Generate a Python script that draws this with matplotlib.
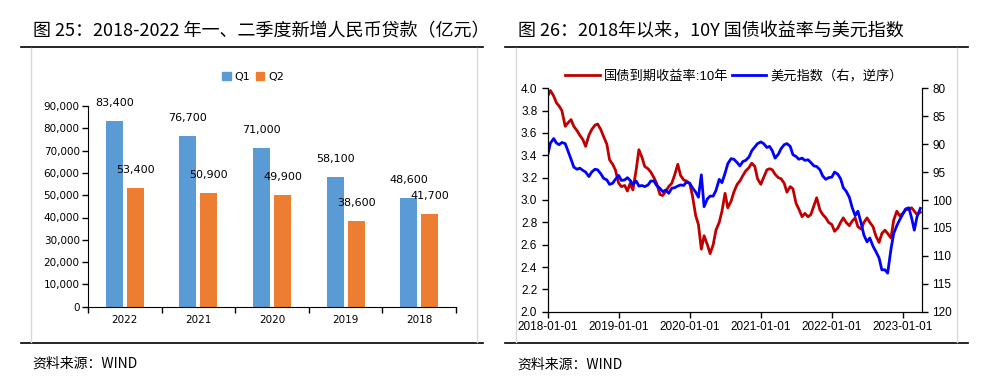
import matplotlib
matplotlib.use("Agg")
import matplotlib.pyplot as plt
import matplotlib.dates as mdates
from matplotlib.lines import Line2D
from matplotlib.patches import Patch
from matplotlib.ticker import FuncFormatter, MultipleLocator
import pandas as pd

plt.rcParams['font.family'] = ['Liberation Sans', 'Noto Sans CJK SC', 'DejaVu Sans']

# ---- left chart data: new RMB loans, 100m yuan ----
years = ["2022", "2021", "2020", "2019", "2018"]
q1 = [83400, 76700, 71000, 58100, 48600]
q2 = [53400, 50900, 49900, 38600, 41700]

# ---- right chart data: semi-monthly readings from 2018-01-01 ----
cgb10y = [3.93, 3.98, 3.93, 3.87, 3.84, 3.80, 3.66, 3.69, 3.72, 3.66,
          3.62, 3.58, 3.54, 3.48, 3.58, 3.63, 3.67, 3.68, 3.63, 3.57,
          3.50, 3.36, 3.32, 3.27, 3.15, 3.12, 3.13, 3.08, 3.15, 3.09,
          3.27, 3.45, 3.38, 3.30, 3.28, 3.25, 3.20, 3.15, 3.05, 3.04,
          3.08, 3.12, 3.15, 3.22, 3.32, 3.22, 3.18, 3.17, 3.15, 3.04,
          2.86, 2.78, 2.56, 2.68, 2.60, 2.52, 2.60, 2.73, 2.80, 2.90,
          3.06, 2.93, 2.99, 3.07, 3.14, 3.17, 3.22, 3.26, 3.29, 3.33,
          3.30, 3.19, 3.14, 3.20, 3.27, 3.28, 3.27, 3.23, 3.20, 3.19,
          3.15, 3.07, 3.12, 3.10, 2.97, 2.92, 2.85, 2.88, 2.85, 2.87,
          2.95, 3.02, 2.91, 2.87, 2.84, 2.80, 2.78, 2.72, 2.75, 2.80,
          2.84, 2.80, 2.77, 2.81, 2.84, 2.76, 2.74, 2.80, 2.84, 2.80,
          2.76, 2.68, 2.62, 2.70, 2.73, 2.70, 2.66, 2.82, 2.90, 2.86,
          2.88, 2.91, 2.92, 2.93, 2.90, 2.87, 2.89]
usd_index = [92.0, 89.8, 89.0, 89.8, 90.1, 89.7, 89.9, 91.2, 92.7, 94.1,
             94.5, 94.3, 94.7, 95.0, 95.8, 95.0, 94.5, 94.6, 95.3, 96.1,
             96.4, 97.2, 97.0, 96.3, 95.6, 96.5, 96.4, 96.0, 96.5, 97.2,
             96.6, 97.5, 97.4, 97.6, 97.3, 96.6, 96.6, 97.4, 97.9, 98.5,
             98.2, 98.8, 97.9, 97.8, 97.5, 97.3, 97.4, 96.8, 97.0, 97.8,
             98.6, 99.5, 95.5, 101.2, 99.8, 99.3, 99.3, 98.3, 96.3, 96.9,
             95.2, 93.5, 92.6, 92.7, 93.3, 93.9, 93.1, 92.9, 92.3, 91.2,
             90.5, 89.9, 89.6, 89.9, 90.6, 90.4, 91.2, 92.5, 91.8, 90.8,
             90.1, 89.9, 90.4, 91.9, 92.2, 92.7, 92.5, 92.9, 92.8, 93.3,
             93.9, 94.0, 94.6, 95.7, 96.3, 96.0, 95.9, 95.0, 95.4, 96.2,
             97.8, 98.4, 99.5, 101.3, 102.8, 102.0, 104.2, 106.3, 107.5, 106.8,
             108.3, 109.2, 110.4, 112.5, 112.5, 113.1, 108.8, 106.0, 104.6, 103.6,
             102.5, 101.6, 101.4, 103.2, 105.4, 103.0, 101.5]
dates = pd.date_range("2018-01-01", periods=len(cgb10y), freq="SMS")

W, H = 981, 387
fig = plt.figure(figsize=(W / 100, H / 100), dpi=100)


def fx(px):
    return px / W


def fy(py):
    return 1 - py / H


def hline(x0, x1, y, color="black", lw=1.2):
    fig.add_artist(Line2D([fx(x0), fx(x1)], [fy(y), fy(y)], color=color, lw=lw))


def vline(x, y0, y1, color="#D9D9D9", lw=1.0):
    fig.add_artist(Line2D([fx(x), fx(x)], [fy(y0), fy(y1)], color=color, lw=lw))


# frames and separators
for x0, x1, g0, g1 in [(21, 483, 30.5, 477), (505, 968, 516, 957)]:
    hline(x0, x1, 47)
    hline(x0, x1, 343)
    vline(g0, 48, 342)
    vline(g1, 48, 342)

fig.text(fx(33), fy(31), "图 25：2018-2022 年一、二季度新增人民币贷款（亿元）",
         fontsize=13, family=['Noto Sans CJK SC'], va='center', ha='left')
fig.text(fx(518), fy(31), "图 26：2018年以来，10Y 国债收益率与美元指数",
         fontsize=13, family=['Noto Sans CJK SC'], va='center', ha='left')
fig.text(fx(32), fy(364), "资料来源：WIND", fontsize=10, style='italic',
         family=['Noto Sans CJK SC'], va='center', ha='left')
fig.text(fx(517), fy(365), "资料来源：WIND", fontsize=10, style='italic',
         family=['Noto Sans CJK SC'], va='center', ha='left')

# ---- left: bar chart ----
bar_font = ['DejaVu Sans']
ax = fig.add_axes([fx(88), fy(306.7), fx(456 - 88), (306.7 - 106) / H])
xs = list(range(len(years)))
off, bw = 0.143, 0.23
c1, c2 = "#5B9BD5", "#ED7D31"
b1 = ax.bar([x - off for x in xs], q1, width=bw, color=c1)
b2 = ax.bar([x + off for x in xs], q2, width=bw, color=c2)
for bars, vals in [(b1, q1), (b2, q2)]:
    for r, v in zip(bars, vals):
        ax.annotate(f"{v:,}", (r.get_x() + r.get_width() / 2, v),
                    xytext=(0, 13), textcoords="offset points",
                    ha="center", va="center", fontsize=8, family=bar_font)
ax.set_ylim(0, 90000)
ax.set_xlim(-0.5, len(years) - 0.5)
ax.yaxis.set_major_locator(MultipleLocator(10000))
ax.yaxis.set_major_formatter(FuncFormatter(lambda v, p: f"{int(v):,}"))
ax.set_xticks([x - 0.5 for x in range(len(years) + 1)])
ax.set_xticklabels([])
ax.set_xticks(xs, minor=True)
ax.set_xticklabels(years, minor=True)
ax.tick_params(axis="x", which="major", length=4, width=1)
ax.tick_params(axis="x", which="minor", length=0, pad=6)
ax.tick_params(axis="y", length=4, width=1, pad=2)
for lab in ax.get_xticklabels(minor=True) + ax.get_yticklabels():
    lab.set_family(bar_font)
    lab.set_fontsize(7.5)
for s in ["top", "right"]:
    ax.spines[s].set_visible(False)
fig.legend(handles=[Patch(color=c1, label="Q1"), Patch(color=c2, label="Q2")],
           loc="center", bbox_to_anchor=(fx(253), fy(77)), ncol=2, frameon=False,
           handlelength=0.75, handleheight=0.75, handletextpad=0.35,
           columnspacing=0.5, prop={'family': bar_font, 'size': 8})

# ---- right: yield vs dollar index ----
axl = fig.add_axes([fx(547.7), fy(311.7), fx(921.7 - 547.7), (311.7 - 88.3) / H])
axr = axl.twinx()
red, blue = "#C00000", "#0000FF"
l1, = axl.plot(dates, cgb10y, color=red, lw=2.0, label="国债到期收益率:10年")
l2, = axr.plot(dates, usd_index, color=blue, lw=2.0, label="美元指数（右，逆序）")
axl.set_ylim(2.0, 4.0)
axl.yaxis.set_major_locator(MultipleLocator(0.2))
axl.yaxis.set_major_formatter(FuncFormatter(lambda v, p: f"{v:.1f}"))
axr.set_ylim(120, 80)
axr.yaxis.set_major_locator(MultipleLocator(5))
axl.set_xlim(pd.Timestamp("2018-01-01"), pd.Timestamp("2023-04-08"))
axl.xaxis.set_major_locator(mdates.YearLocator())
axl.xaxis.set_major_formatter(mdates.DateFormatter("%Y-%m-%d"))
for a in (axl, axr):
    a.tick_params(length=4, width=1, labelsize=8.5)
    a.spines["top"].set_visible(False)
axl.tick_params(axis="x", pad=3)
fig.legend(handles=[l1, l2], loc="center", bbox_to_anchor=(fx(734), fy(76)),
           ncol=2, frameon=False, handlelength=2.6,
           handletextpad=0.3, columnspacing=0.3,
           prop={'family': ['Liberation Sans', 'Noto Sans CJK SC'], 'size': 9.5})

fig.savefig("out.png", dpi=100)
